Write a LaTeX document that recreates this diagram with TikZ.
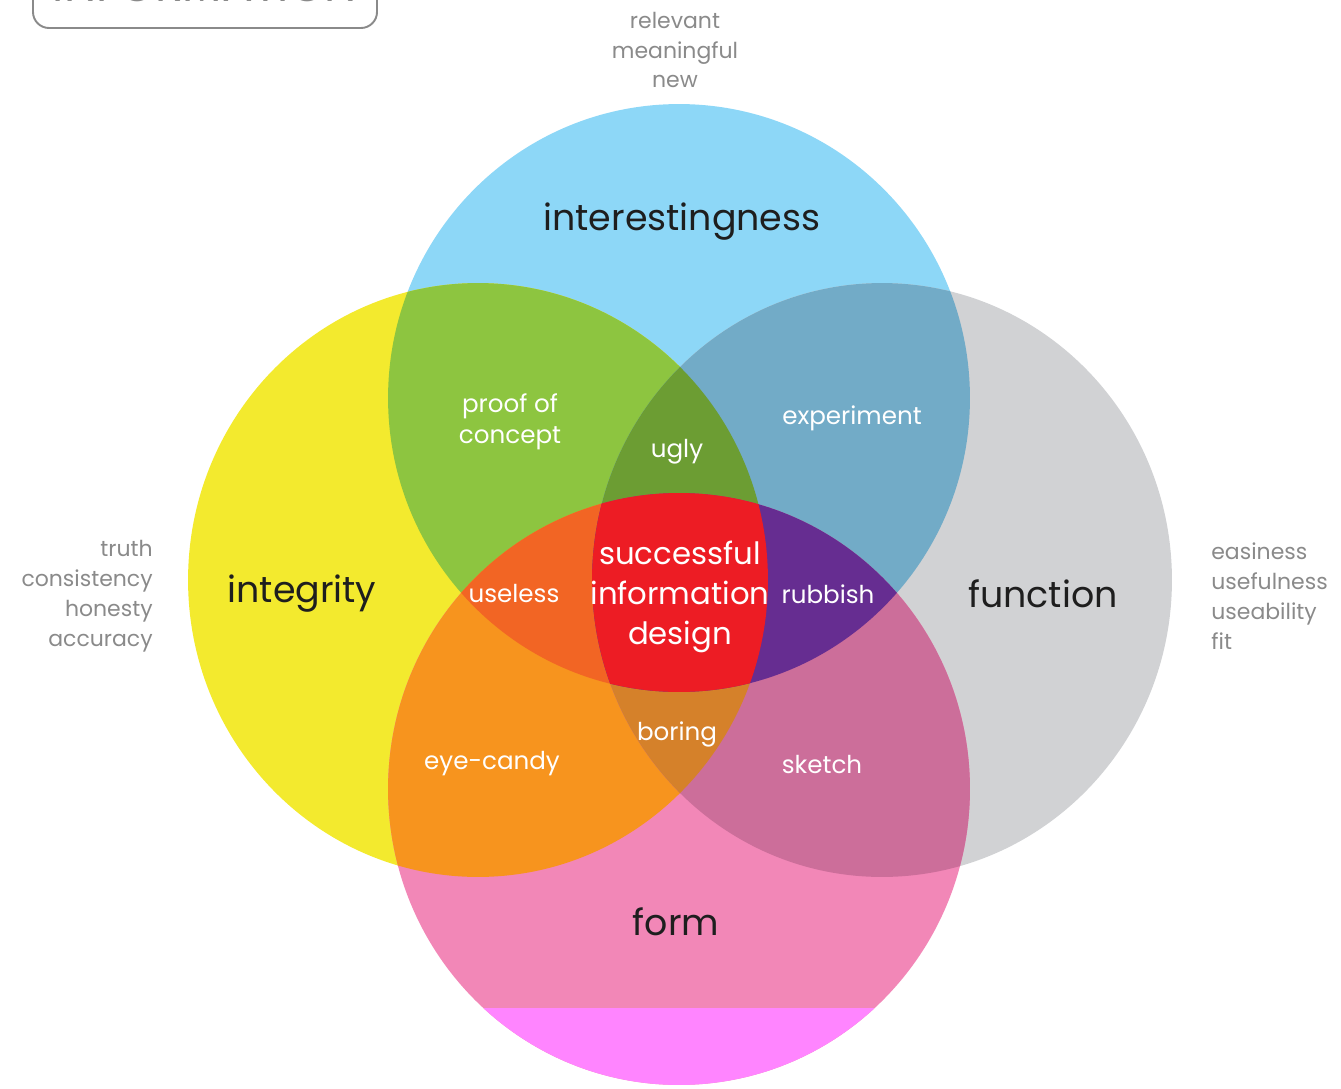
\documentclass[tikz,border=0pt]{standalone}
\usepackage{fontspec}
\setmainfont{Poppins}
\usetikzlibrary{positioning}
\definecolor{vBlue}{HTML}{8DD7F7}
\definecolor{vYellow}{HTML}{F3EA2E}
\definecolor{vGrey}{HTML}{D1D2D4}
\definecolor{vPink}{HTML}{F287B7}
\definecolor{vGreen}{HTML}{8DC540}
\definecolor{vTeal}{HTML}{72ABC7}
\definecolor{vOrange}{HTML}{F7941E}
\definecolor{vMauve}{HTML}{CC6E9A}
\definecolor{vDarkGreen}{HTML}{6C9D33}
\definecolor{vUseless}{HTML}{F26524}
\definecolor{vPurple}{HTML}{662D91}
\definecolor{vBoring}{HTML}{D5812A}
\definecolor{vRed}{HTML}{ED1C24}
\definecolor{vMagenta}{HTML}{FF85FF}
\definecolor{vInk}{HTML}{1E1E1E}
\definecolor{vNote}{HTML}{8A8A8A}
\newcommand{\vennTop}{(679,398) ellipse [x radius=5.82cm, y radius=5.88cm]}
\newcommand{\vennLeft}{(478,580) ellipse [x radius=5.8cm, y radius=5.94cm]}
\newcommand{\vennRight}{(882,580) ellipse [x radius=5.8cm, y radius=5.94cm]}
\newcommand{\vennBot}{(679,789) ellipse [x radius=5.82cm, y radius=5.92cm]}
\tikzset{
  biglabel/.style={font=\fontsize{20.7}{24}\selectfont, text=vInk, inner sep=0pt},
  zonelabel/.style={font=\fontsize{14}{17.5}\selectfont, text=white, align=center, inner sep=0pt},
  notelist/.style={font=\fontsize{12.5}{17}\selectfont, text=vNote, inner sep=0pt},
}

\begin{document}
\begin{tikzpicture}[x=0.02cm, y=-0.02cm]
\useasboundingbox (0,0) rectangle (1341,1088);
% single circles
\fill[vBlue] \vennTop;
\fill[vYellow] \vennLeft;
\fill[vGrey] \vennRight;
\fill[vPink] \vennBot;
\begin{scope}
  \clip \vennBot;
  \fill[vMagenta] (0,1008) rectangle (1341,1100);
\end{scope}
% pairs
\begin{scope}
  \clip \vennTop;
  \fill[vGreen] \vennLeft;
  \fill[vTeal] \vennRight;
\end{scope}
\begin{scope}
  \clip \vennBot;
  \fill[vOrange] \vennLeft;
  \fill[vMauve] \vennRight;
\end{scope}
% triples
\begin{scope}
  \clip \vennTop;
  \clip \vennLeft;
  \fill[vDarkGreen] \vennRight;
  \fill[vUseless] \vennBot;
\end{scope}
\begin{scope}
  \clip \vennBot;
  \clip \vennRight;
  \fill[vBoring] \vennLeft;
  \fill[vPurple] \vennTop;
\end{scope}
% all four
\begin{scope}
  \clip \vennTop;
  \clip \vennLeft;
  \clip \vennRight;
  \fill[vRed] \vennBot;
\end{scope}
% title box, cut by the page edge
\draw[vNote, line width=1.1pt, rounded corners=0.32cm] (33,-60) rectangle (377,28);
\node[font=\fontsize{26}{26}\selectfont, text=vNote, anchor=base, inner sep=0pt] (boxtitle) at (205,2) {INFORMATION};
% circle labels
\node[biglabel] (interest) at (682,222) {interestingness};
\node[biglabel] (integrity) at (302,594) {integrity};
\node[biglabel] (function) at (1043,594) {function};
\node[biglabel] (form) at (676,922) {form};
% notes round the outside
\node[notelist, align=center] (topnotes) at (675,50) {relevant\\meaningful\\new};
\node[notelist, align=right, anchor=east] (leftnotes) at (153,596) {truth\\consistency\\honesty\\accuracy};
\node[notelist, align=left, anchor=west] (rightnotes) at (1211,596) {easiness\\usefulness\\useability\\fit};
% overlap labels
\node[zonelabel] (proof) at (510,422) {proof of\\concept};
\node[zonelabel] (ugly) at (677,452) {ugly};
\node[zonelabel] (experiment) at (852,418) {experiment};
\node[zonelabel] (useless) at (514,594) {useless};
\node[zonelabel] (rubbish) at (828,594) {rubbish};
\node[zonelabel] (boring) at (677,734) {boring};
\node[zonelabel] (eyecandy) at (492,764) {eye-candy};
\node[zonelabel] (sketch) at (822,764) {sketch};
\node[zonelabel, font=\fontsize{17.5}{22.6}\selectfont] (success) at (680,597) {successful\\information\\design};
\end{tikzpicture}
\end{document}
